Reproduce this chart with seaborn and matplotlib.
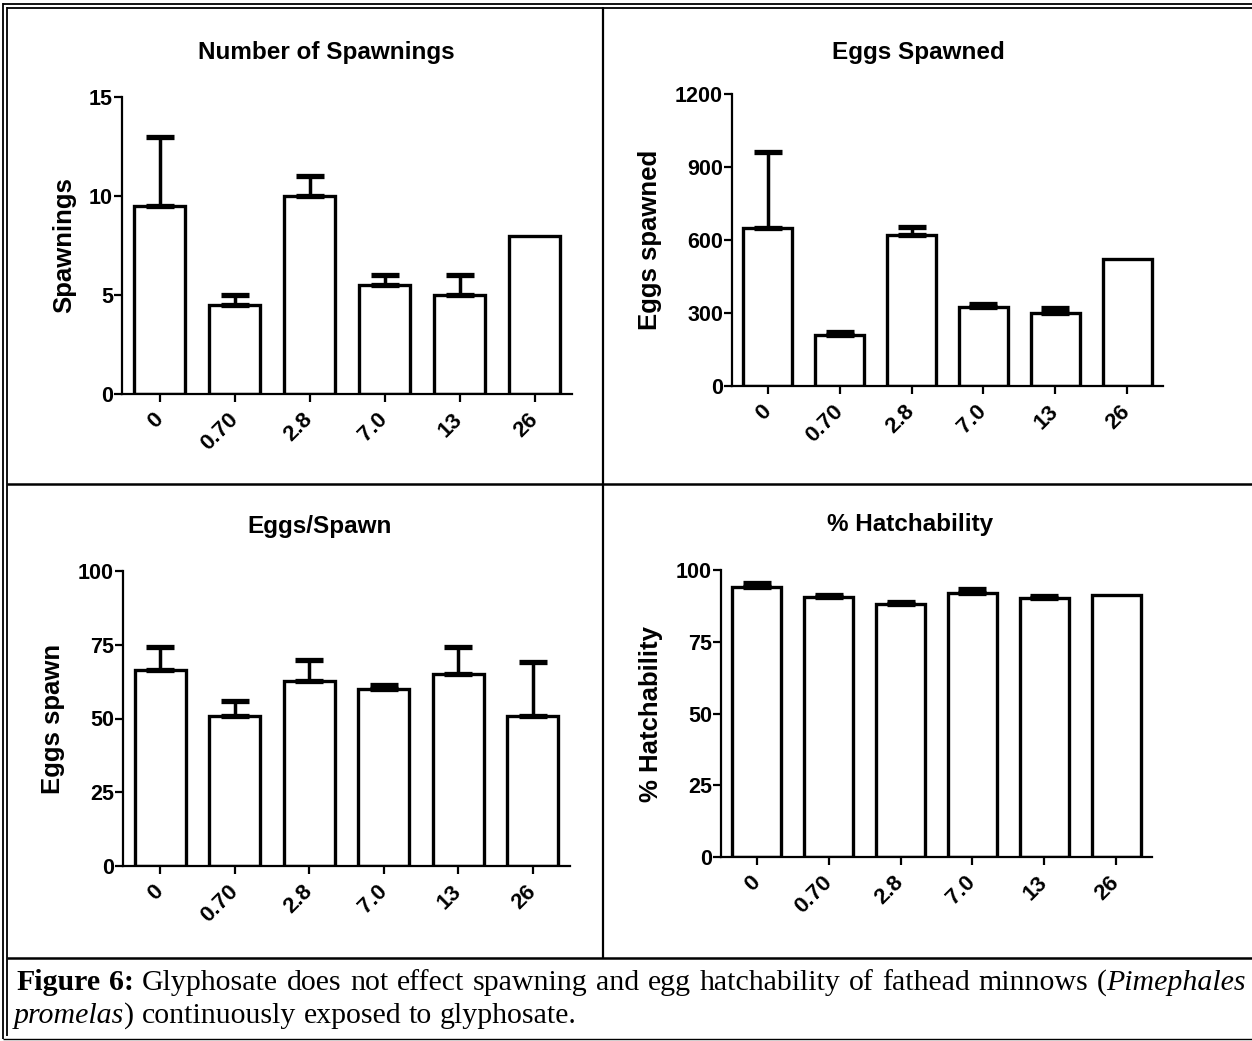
import numpy as np
import matplotlib
matplotlib.use('Agg')
import matplotlib.pyplot as plt
import matplotlib.transforms as mtransforms
import seaborn as sns

# glyphosate concentrations (x categories)
doses = ['0', '0.70', '2.8', '7.0', '13', '26']

# Number of Spawnings: mean and top of error bar (None = no bar)
spawn_mean = [9.5, 4.5, 10.0, 5.5, 5.0, 8.0]
spawn_upper = [13.0, 5.0, 11.0, 6.0, 6.0, None]

# Eggs Spawned
eggs_mean = [651, 209, 621, 325, 302, 520]
eggs_upper = [961, 220, 654, 335, 322, None]

# Eggs/Spawn
eps_mean = [66.5, 50.8, 62.6, 60.1, 65.0, 51.0]
eps_upper = [74.1, 55.8, 69.9, 61.2, 74.1, 69.0]

# % Hatchability
hatch_mean = [94.2, 90.5, 88.1, 92.1, 90.1, 91.3]
hatch_upper = [95.4, 91.3, 88.7, 93.3, 91.1, None]

W, H = 1252, 1041

sns.set_theme(style='ticks')
plt.rcParams['font.family'] = ['Liberation Sans', 'DejaVu Sans']
plt.rcParams['font.weight'] = 'bold'
for k in ['text.color', 'axes.labelcolor', 'xtick.color', 'ytick.color', 'axes.edgecolor']:
    plt.rcParams[k] = 'black'

fig = plt.figure(figsize=(W / 100, H / 100), dpi=100)
fig.patch.set_facecolor('white')


def px_axes(x0, x1, y0, y1):
    # axes box given in pixels measured from the top-left corner
    return fig.add_axes([x0 / W, 1 - y1 / H, (x1 - x0) / W, (y1 - y0) / H])


def panel(ax, mean, upper, title, title_xy, ylabel, ymax, yticks):
    sns.barplot(x=doses, y=mean, order=doses, color='white', saturation=1,
                edgecolor='black', linewidth=2.4, width=0.68, errorbar=None, ax=ax)
    idx = [i for i, u in enumerate(upper) if u is not None]
    m = np.array([mean[i] for i in idx], dtype=float)
    u = np.array([upper[i] for i in idx], dtype=float)
    ax.errorbar(idx, m, yerr=[np.zeros(len(idx)), u - m], fmt='none', ecolor='black',
                elinewidth=2.5, capsize=10, capthick=3.8, zorder=5)
    ax.set_xlim(-0.5, 5.5)
    ax.set_ylim(0, ymax)
    ax.set_yticks(yticks)
    ax.set_facecolor('none')
    for s in ['top', 'right']:
        ax.spines[s].set_visible(False)
    for s in ['left', 'bottom']:
        ax.spines[s].set_linewidth(1.6)
    ax.tick_params(axis='both', direction='out', length=6, width=1.6,
                   labelsize=15.5, pad=0.5)
    ax.tick_params(axis='x', pad=10, labelsize=16)
    ax.set_xticks(range(len(doses)))
    ax.set_xticklabels(doses, rotation=45, ha='right', va='center',
                       rotation_mode='anchor', fontweight='bold')
    for t in ax.get_yticklabels():
        t.set_fontweight('bold')
    ax.set_xlabel('')
    ax.set_ylabel(ylabel, fontsize=18.5, fontweight='bold', labelpad=9)
    fig.text(title_xy[0] / W, 1 - title_xy[1] / H, title, ha='center', va='center',
             fontsize=17.5, fontweight='bold')


ax1 = px_axes(122, 572, 97, 394)
panel(ax1, spawn_mean, spawn_upper, 'Number of Spawnings', (326, 52),
      'Spawnings', 15, [0, 5, 10, 15])

ax2 = px_axes(732, 1163, 94, 386)
panel(ax2, eggs_mean, eggs_upper, 'Eggs Spawned', (918, 52),
      'Eggs spawned', 1200, [0, 300, 600, 900, 1200])

ax3 = px_axes(123, 570, 571, 866)
panel(ax3, eps_mean, eps_upper, 'Eggs/Spawn', (320, 527),
      'Eggs spawn', 100, [0, 25, 50, 75, 100])

ax4 = px_axes(721, 1152, 570, 857)
panel(ax4, hatch_mean, hatch_upper, '% Hatchability', (910, 525),
      '% Hatchability', 100, [0, 25, 50, 75, 100])

# table frame around the four graphs and the caption
frame = fig.add_axes([0, 0, 1, 1], zorder=10)
frame.set_xlim(0, W)
frame.set_ylim(H, 0)
frame.axis('off')
frame.patch.set_visible(False)
kw = dict(color='black', solid_capstyle='butt')
frame.plot([3, 3], [3, 1039], lw=1.3, **kw)
frame.plot([7, 7], [7, 1036], lw=1.3, **kw)
frame.plot([3, W], [3.5, 3.5], lw=1.3, **kw)
frame.plot([7, W], [7.5, 7.5], lw=1.3, **kw)
frame.plot([3, W], [1038.5, 1038.5], lw=1.0, **kw)
frame.plot([7, W], [484, 484], lw=1.8, **kw)
frame.plot([603, 603], [7, 958], lw=1.6, **kw)
frame.plot([7, W], [958, 958], lw=1.8, **kw)

# caption, first line justified
cap_fs = 21.5
ident = mtransforms.IdentityTransform()
renderer = fig.canvas.get_renderer()

line1 = [[('Figure', 'bold', 'normal')], [('6:', 'bold', 'normal')]]
for w in 'Glyphosate does not effect spawning and egg hatchability of fathead minnows'.split():
    line1.append([(w, 'normal', 'normal')])
line1.append([('(', 'normal', 'normal'), ('Pimephales', 'normal', 'italic')])

line2 = [[('promelas', 'normal', 'italic'), (')', 'normal', 'normal')]]
for w in 'continuously exposed to glyphosate.'.split():
    line2.append([(w, 'normal', 'normal')])


def make_word(runs, x, y):
    parts = []
    for s, weight, style in runs:
        t = fig.text(x, y, s, transform=ident, fontsize=cap_fs, fontweight=weight,
                     fontstyle=style, family=['Liberation Serif', 'DejaVu Serif'],
                     ha='left', va='baseline')
        w = t.get_window_extent(renderer).width
        parts.append((t, w))
        x += w
    return parts


def draw_line(words, x0, y_top, x1=None):
    y = H - y_top
    built = [make_word(r, 0, y) for r in words]
    widths = [sum(w for _, w in p) for p in built]
    space = cap_fs * 100 / 72 * 0.25
    if x1 is not None:
        space = (x1 - x0 - sum(widths)) / (len(words) - 1)
    x = x0
    for p, wd in zip(built, widths):
        xx = x
        for t, w in p:
            t.set_x(xx)
            xx += w
        x += wd + space


draw_line(line1, 16, 990, 1246)
draw_line(line2, 14, 1023)

fig.savefig('out.png', dpi=100, facecolor='white')
